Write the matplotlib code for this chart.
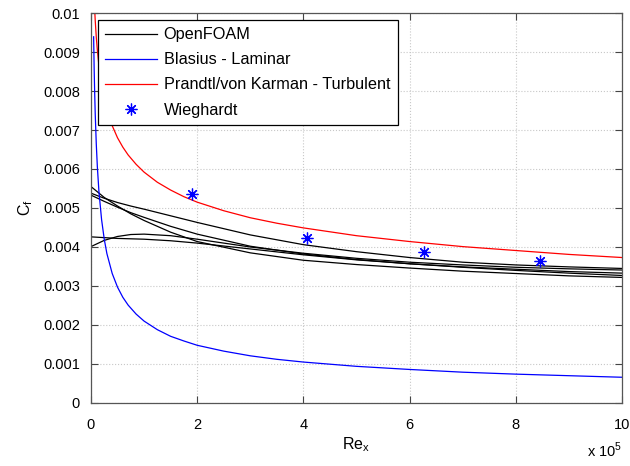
import numpy as np
import matplotlib
matplotlib.use("Agg")
import matplotlib.pyplot as plt

plt.rcParams['font.family'] = ['Liberation Sans', 'DejaVu Sans']

# Reynolds number stations, in units of 1e5
re_foam = [0, 0.25, 0.5, 0.75, 1, 1.5, 2, 3, 4, 5, 6, 7, 8, 9, 10]

# OpenFOAM skin friction runs, Cf x 1e-3
foam_a = [5.38, 5.25, 5.14, 5.05, 4.97, 4.80, 4.63, 4.31, 4.06, 3.88, 3.73, 3.61, 3.54, 3.49, 3.45]
foam_b = [5.55, 5.27, 5.05, 4.85, 4.68, 4.38, 4.14, 3.85, 3.66, 3.55, 3.46, 3.38, 3.32, 3.26, 3.22]
foam_c = [5.33, 5.17, 5.02, 4.88, 4.76, 4.53, 4.33, 4.02, 3.82, 3.68, 3.57, 3.48, 3.40, 3.33, 3.27]
foam_d = [4.26, 4.24, 4.22, 4.21, 4.20, 4.16, 4.10, 3.95, 3.80, 3.67, 3.57, 3.49, 3.43, 3.37, 3.33]
foam_e = [4.01, 4.17, 4.27, 4.32, 4.33, 4.29, 4.20, 4.00, 3.84, 3.71, 3.61, 3.54, 3.48, 3.44, 3.41]

# analytic reference curves, Cf x 1e-3
re_ref = [0.05, 0.06, 0.07, 0.08, 0.1, 0.12, 0.15, 0.2, 0.25, 0.3, 0.4, 0.5, 0.6, 0.7, 0.85,
          1, 1.25, 1.5, 1.75, 2, 2.5, 3, 3.5, 4, 5, 6, 7, 8, 9, 10]
blasius = [9.39, 8.57, 7.94, 7.42, 6.64, 6.06, 5.42, 4.70, 4.20, 3.83, 3.32, 2.97, 2.71, 2.51,
           2.28, 2.10, 1.88, 1.71, 1.59, 1.48, 1.33, 1.21, 1.12, 1.05, 0.94, 0.86, 0.79,
           0.74, 0.70, 0.66]
prandtl = [10.78, 10.39, 10.08, 9.81, 9.38, 9.05, 8.65, 8.17, 7.81, 7.53, 7.11, 6.80, 6.56,
           6.36, 6.12, 5.92, 5.66, 5.46, 5.29, 5.15, 4.93, 4.75, 4.61, 4.49, 4.29, 4.14,
           4.01, 3.91, 3.81, 3.73]

# Wieghardt measurements
re_wieg = [1.90, 4.07, 6.27, 8.46]
cf_wieg = [5.35, 4.24, 3.86, 3.64]

fig = plt.figure(figsize=(6.3, 4.66), dpi=100)
ax = fig.add_axes([0.1444, 0.1352, 0.8429, 0.8369])

x = np.array(re_foam) * 1e5
for i, cf in enumerate([foam_a, foam_b, foam_c, foam_d, foam_e]):
    ax.plot(x, np.array(cf) * 1e-3, color='black', lw=0.9,
            label='OpenFOAM' if i == 0 else None)

xr = np.array(re_ref) * 1e5
ax.plot(xr, np.array(blasius) * 1e-3, color='#0000ff', lw=0.9, label='Blasius - Laminar')
ax.plot(xr, np.array(prandtl) * 1e-3, color='#ff0000', lw=0.9,
        label='Prandtl/von Karman - Turbulent')
ax.plot(np.array(re_wieg) * 1e5, np.array(cf_wieg) * 1e-3, ls='none',
        marker=(8, 2, 0), ms=8.5, mew=0.9, color='#0000ff', label='Wieghardt')

ax.set_xlim(0, 1e6)
ax.set_ylim(0, 0.01)
ax.set_xticks(np.arange(0, 1.01e6, 2e5))
ax.set_xticklabels(['0', '2', '4', '6', '8', '10'])
ax.set_yticks(np.arange(0, 0.0101, 0.001))
ax.set_yticklabels(['0'] + ['%g' % (k / 1000) for k in range(1, 11)])

ax.grid(True, color='#c8c8c8', ls=':', lw=0.8)
ax.tick_params(direction='in', length=5, width=0.8, colors='#444444',
               labelcolor='black', labelsize=10.5, top=True, right=True, pad=8)
ax.tick_params(axis='x', pad=11)
for s in ax.spines.values():
    s.set_color('#555555')
    s.set_linewidth(0.9)

ax.set_xlabel('Re$_\\mathregular{x}$', fontsize=11.5, labelpad=2)
ax.set_ylabel('C$_\\mathregular{f}$', fontsize=11.5, labelpad=6)
fig.text(0.987, 0.012, 'x 10$^\\mathregular{5}$', ha='right', va='bottom', fontsize=10.5)

leg = ax.legend(loc='upper left', bbox_to_anchor=(0.013, 0.982), borderaxespad=0,
                fontsize=11.7, handlelength=3.2, handletextpad=0.4, labelspacing=0.62,
                borderpad=0.45, fancybox=False, framealpha=1)
leg.get_frame().set_edgecolor('black')
leg.get_frame().set_linewidth(0.9)

fig.savefig('out.png', dpi=100)
